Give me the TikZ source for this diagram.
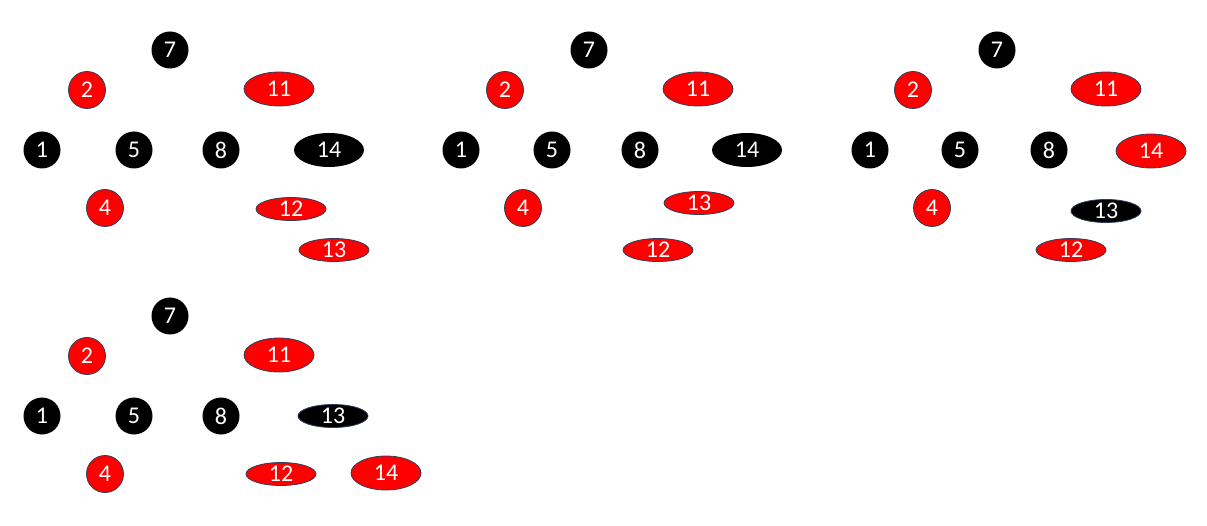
\documentclass[tikz,border=0pt]{standalone}
\usepackage{fontspec}
\setmainfont{Carlito}
\usetikzlibrary{shapes.geometric}

\definecolor{rbred}{HTML}{FF0000}
\definecolor{rbedge}{HTML}{2F3E5C}

\begin{document}
\begin{tikzpicture}[x=1pt, y=-1pt]
  \tikzstyle{o} = [circle, color=white, fill=black, inner sep=0pt,
  minimum width=37pt, align=center, font=\fontsize{24}{24}\selectfont];
  \tikzstyle{e} = [o, ellipse, minimum width=70pt, minimum height=34pt];
  \tikzstyle{f} = [e, minimum height=23pt];
  \tikzstyle{r} = [fill=rbred, draw=rbedge, line width=0.8pt];
  \tikzstyle{k} = [draw=rbedge, line width=0.8pt];

  \useasboundingbox (0,0) rectangle (1207,526);

  % first tree
  \node[o] (a7) at (170, 50) {7};
  \node[o,r] (a2) at (87, 90) {2};
  \node[e,r] (a11) at (279, 89) {11};
  \node[o] (a1) at (42, 150) {1};
  \node[o] (a5) at (134, 150) {5};
  \node[o] (a8) at (221, 150) {8};
  \node[e] (a14) at (329, 150) {14};
  \node[o,r] (a4) at (105, 208) {4};
  \node[f,r] (a12) at (291, 209) {12};
  \node[f,r] (a13) at (334, 250) {13};

  % second tree
  \node[o] (b7) at (589, 50) {7};
  \node[o,r] (b2) at (505, 90) {2};
  \node[e,r] (b11) at (698, 89) {11};
  \node[o] (b1) at (461, 150) {1};
  \node[o] (b5) at (552, 150) {5};
  \node[o] (b8) at (640, 150) {8};
  \node[e] (b14) at (747, 150) {14};
  \node[o,r] (b4) at (523, 208) {4};
  \node[f,r] (b13) at (699, 203) {13};
  \node[f,r] (b12) at (658, 250) {12};

  % third tree
  \node[o] (c7) at (997, 50) {7};
  \node[o,r] (c2) at (913, 90) {2};
  \node[e,r] (c11) at (1106, 89) {11};
  \node[o] (c1) at (870, 150) {1};
  \node[o] (c5) at (960, 150) {5};
  \node[o] (c8) at (1049, 150) {8};
  \node[e,r] (c14) at (1151, 151) {14};
  \node[o,r] (c4) at (932, 208) {4};
  \node[f,k] (c13) at (1106, 211) {13};
  \node[f,r] (c12) at (1071, 250) {12};

  % fourth tree
  \node[o] (d7) at (170, 316) {7};
  \node[o,r] (d2) at (87, 356) {2};
  \node[e,r] (d11) at (279, 355) {11};
  \node[o] (d1) at (42, 416) {1};
  \node[o] (d5) at (134, 416) {5};
  \node[o] (d8) at (221, 416) {8};
  \node[f,k] (d13) at (333, 416) {13};
  \node[o,r] (d4) at (105, 474) {4};
  \node[f,r] (d12) at (281, 474) {12};
  \node[e,r] (d14) at (386, 473) {14};
\end{tikzpicture}
\end{document}
